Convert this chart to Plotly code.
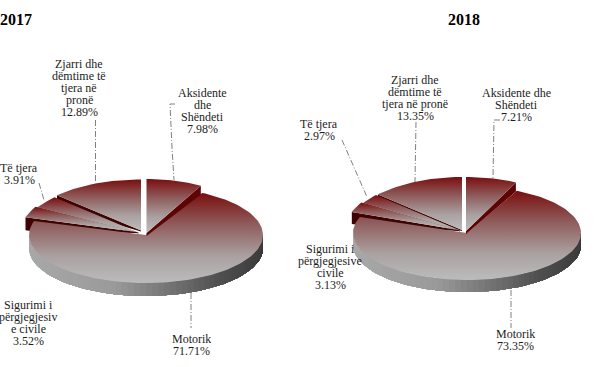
import math
import plotly.graph_objects as go

categories = ["Aksidente dhe Shëndeti", "Motorik", "Sigurimi i përgjegjesive civile", "Të tjera", "Zjarri dhe dëmtime të tjera në pronë"]
values_2017 = [7.98, 71.71, 3.52, 3.91, 12.89]
values_2018 = [7.21, 73.35, 3.13, 2.97, 13.35]
years = ["2017", "2018"]

labels_2017 = [
    ["Aksidente", "dhe", "Shëndeti", "7.98%"],
    ["Motorik", "71.71%"],
    ["Sigurimi i", "përgjegjesiv", "e civile", "3.52%"],
    ["Të tjera", "3.91%"],
    ["Zjarri dhe", "dëmtime të", "tjera në", "pronë", "12.89%"],
]
labels_2018 = [
    ["Aksidente dhe", "Shëndeti", "7.21%"],
    ["Motorik", "73.35%"],
    ["Sigurimi i", "përgjegjesive", "civile", "3.13%"],
    ["Të tjera", "2.97%"],
    ["Zjarri dhe", "dëmtime të", "tjera në pronë", "13.35%"],
]

# layout: pixel geometry of each pie (style/position only)
geom_2017 = dict(cx=146, cy=235, rx=117, ry=48, depth=13,
                 apex=[(146.5, 233), (146, 235), (136.5, 232), (138.5, 232.5), (141, 230.5)],
                 rad=[(113, 54), (117, 48), (116, 51), (116, 51), (116, 51)],
                 drop=[9, 0, 13, 5, 13])
geom_2018 = dict(cx=467, cy=233, rx=114, ry=47, depth=12,
                 apex=[(466, 231), (467, 233), (458, 230), (460, 230.5), (462, 230)],
                 rad=[(114, 54), (114, 47), (113, 53), (113, 53), (113, 53)],
                 drop=[9, 0, 12, 4, 12])
label_pos_2017 = [(202, 93), (191, 339), (28, 305), (19, 168), (79, 64)]
label_pos_2018 = [(516, 93), (515, 334), (330, 249), (319, 124), (415, 80)]
leaders_2017 = [[(175, 104), (170, 104), (172, 148), (174, 180)], [(191, 293), (191, 328)],
                [(39, 183), (44, 200)], [(95.5, 120), (95.5, 182)]]
leaders_2018 = [[(500, 120), (494, 120), (493, 179)], [(511, 290), (511, 328)],
                [(342, 140), (367, 197)], [(416, 122), (415, 182)]]
title_pos = [(16, 19), (463.5, 19)]

TOP = [[0, "#7a0e0e"], [0.35, "#8f5c5c"], [0.7, "#aaa0a0"], [1, "#bcbcbc"]]
SIDE_STOPS = [(0.0, 168), (0.35, 154), (0.6, 114), (0.8, 80), (1.0, 58)]
fig = go.Figure()


def add_poly(pts, **fill):
    xs = [p[0] for p in pts] + [pts[0][0]]
    ys = [p[1] for p in pts] + [pts[0][1]]
    fig.add_trace(go.Scatter(x=xs, y=ys, mode="lines", line=dict(width=0), fill="toself",
                             hoverinfo="skip", showlegend=False, **fill))


def wedge(ax, ay, rx, ry, t0, t1):
    n = max(4, int(abs(t1 - t0) / 0.03))
    pts = [(ax, ay)]
    for i in range(n + 1):
        t = t0 + (t1 - t0) * i / n
        pts.append((ax + rx * math.sin(t), ay - ry * math.cos(t)))
    return pts


def top_grad(pts):
    ys = [p[1] for p in pts]
    return dict(fillgradient=dict(type="vertical", colorscale=TOP, start=min(ys), stop=max(ys)))


def side_grey(f):
    for (f0, c0), (f1, c1) in zip(SIDE_STOPS, SIDE_STOPS[1:]):
        if f <= f1:
            c = round(c0 + (c1 - c0) * (f - f0) / (f1 - f0))
            return "rgb(%d,%d,%d)" % (c, c, c)
    return "rgb(58,58,58)"


def draw_side(g):
    cx, cy, rx, ry, d = g["cx"], g["cy"], g["rx"], g["ry"], g["depth"]
    # each strip runs from its left edge to the far right, so later strips overpaint with no seams
    angles = list(range(270, 89, -3))
    arc = [(cx + rx * math.sin(math.radians(a)), cy - ry * math.cos(math.radians(a))) for a in angles]
    for i in range(len(arc) - 1):
        part = arc[i:]
        f = (arc[i][0] - (cx - rx)) / (2 * rx)
        add_poly(part + [(x, y + d) for x, y in reversed(part)], fillcolor=side_grey(f))


def draw_pie(values, g):
    total = sum(values)
    angs, c = [], 0.0
    for v in values:
        angs.append((c / total * 2 * math.pi, (c + v) / total * 2 * math.pi))
        c += v
    wedges = [wedge(*g["apex"][i], *g["rad"][i], *angs[i]) for i in range(5)]
    # back-left exploded slices first
    for i in (4, 3, 2):
        ax, ay = g["apex"][i]
        rx, ry = g["rad"][i]
        t = angs[i][0]
        px, py = ax + rx * math.sin(t), ay - ry * math.cos(t)
        add_poly([(ax, ay), (px, py), (px, py + g["drop"][i]), (px + 7, py + g["drop"][i] + 1), (ax, ay + 1)],
                 fillcolor="#3f0303")
        add_poly(wedges[i], **top_grad(wedges[i]))
    draw_side(g)
    add_poly(wedges[1], **top_grad(wedges[1]))
    # front-right exploded slice
    ax, ay = g["apex"][0]
    rx0, ry0 = g["rad"][0]
    t = angs[0][1]
    px, py = ax + rx0 * math.sin(t), ay - ry0 * math.cos(t)
    add_poly([(ax, ay), (px, py), (px, py + g["drop"][0]), (ax, ay + 3)], fillcolor="#5e0404")
    add_poly(wedges[0], **top_grad(wedges[0]))


def draw_leaders(leaders):
    for pts in leaders:
        fig.add_trace(go.Scatter(x=[p[0] for p in pts], y=[p[1] for p in pts], mode="lines",
                                 line=dict(color="#808080", width=1, dash="6px,2px,1px,2px"),
                                 hoverinfo="skip", showlegend=False))


def draw_labels(labels, pos):
    for lines, (x, y) in zip(labels, pos):
        for k, line in enumerate(lines):
            fig.add_annotation(x=x, y=y + 12 * k, text=line, showarrow=False, xanchor="center", yanchor="middle",
                               font=dict(family="Liberation Serif", size=12, color="#1c1c1c"))


for vals, g, labs, lpos, lead in [(values_2017, geom_2017, labels_2017, label_pos_2017, leaders_2017),
                                  (values_2018, geom_2018, labels_2018, label_pos_2018, leaders_2018)]:
    draw_leaders(lead)
    draw_pie(vals, g)
    draw_labels(labs, lpos)

for yr, (x, y) in zip(years, title_pos):
    fig.add_annotation(x=x, y=y, text="<b>%s</b>" % yr, showarrow=False, xanchor="center", yanchor="middle",
                       font=dict(family="Liberation Serif", size=16, color="#000000"))

fig.update_layout(width=604, height=367, margin=dict(l=0, r=0, t=0, b=0), paper_bgcolor="white",
                  plot_bgcolor="white", showlegend=False,
                  xaxis=dict(range=[0, 604], visible=False, fixedrange=True),
                  yaxis=dict(range=[367, 0], visible=False, fixedrange=True))
fig.write_html("out.html", config=dict(displayModeBar=False),
               post_script="document.body.style.margin='0';document.documentElement.style.overflow='hidden';")
